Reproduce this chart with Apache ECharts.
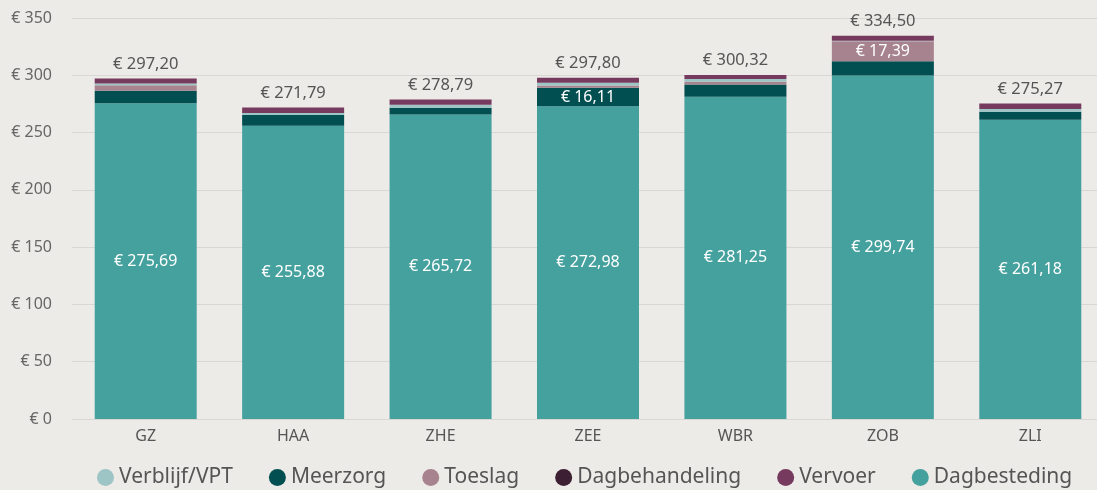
<!DOCTYPE html>
<html>
<head>
<meta charset="utf-8">
<script src="https://cdn.jsdelivr.net/npm/echarts@6/dist/echarts.min.js"></script>
<style>
  html, body { margin: 0; padding: 0; background: #edebe7; }
  #myChart { width: 1097px; height: 490px; }
</style>
</head>
<body>
<div id="myChart"></div>
<script>
// categorieen
const locaties = ['GZ', 'HAA', 'ZHE', 'ZEE', 'WBR', 'ZOB', 'ZLI']
// waarden per onderdeel (geschat uit de afbeelding)
const dagbesteding = [275.69, 255.88, 265.72, 272.98, 281.25, 299.74, 261.18]
const meerzorg = [10.81, 9.5, 5.97, 16.11, 10.6, 12.57, 6.99]
const toeslag = [4.8, 0, 0, 2.01, 2.5, 17.39, 0]
const verblijf = [1.6, 1.7, 2.7, 2.4, 2.47, 0.4, 2.3]
const dagbehandeling = [0, 0, 0, 0, 0, 0, 0]
const vervoer = [4.3, 4.71, 4.4, 4.3, 3.5, 4.4, 4.8]
const totalen = [297.2, 271.79, 278.79, 297.8, 300.32, 334.5, 275.27]
// welke segmenten een label binnen de balk krijgen
const meerzorgLabel = ['ZEE']
const toeslagLabel = ['ZOB']

const fontFam = 'Noto Sans'
const euro = v => '€ ' + v.toFixed(2).replace('.', ',')

function withLabels(values, showFor) {
  return values.map((v, i) => ({
    value: v,
    label: { show: showFor.indexOf(locaties[i]) >= 0 },
  }))
}

let myChart = echarts.init(document.getElementById('myChart'))
myChart.setOption({
  backgroundColor: '#edebe7',
  animation: false,
  textStyle: { fontFamily: fontFam },
  grid: { left: 72, width: 1032, top: 18, bottom: 71, containLabel: false, outerBoundsMode: 'none' },
  legend: {
    bottom: -3,
    left: 92,
    icon: 'circle',
    itemWidth: 17,
    itemHeight: 17,
    itemGap: 36,
    textStyle: { fontSize: 21, color: '#555', fontFamily: fontFam },
    data: ['Verblijf/VPT', 'Meerzorg', 'Toeslag', 'Dagbehandeling', 'Vervoer', 'Dagbesteding'],
  },
  xAxis: {
    type: 'category',
    data: locaties,
    axisLine: { show: false },
    axisTick: { show: false },
    axisLabel: { fontSize: 16, color: '#555', margin: 9 },
  },
  yAxis: {
    type: 'value',
    min: 0,
    max: 350,
    interval: 50,
    axisLabel: { fontSize: 16, color: '#666', margin: 20, formatter: v => '€ ' + v },
    splitLine: { lineStyle: { color: '#d9d7d3' } },
  },
  series: [
    {
      name: 'Dagbesteding', type: 'bar', stack: 'tot', barWidth: 102,
      itemStyle: { color: '#45a19e' },
      label: { show: true, position: 'inside', color: '#fff', fontSize: 16, formatter: p => euro(p.value) },
      data: dagbesteding,
    },
    {
      name: 'Meerzorg', type: 'bar', stack: 'tot',
      itemStyle: { color: '#014f51' },
      label: { position: 'inside', color: '#fff', fontSize: 16, formatter: p => euro(p.value) },
      data: withLabels(meerzorg, meerzorgLabel),
    },
    {
      name: 'Toeslag', type: 'bar', stack: 'tot',
      itemStyle: { color: '#a6838e' },
      label: { position: 'inside', color: '#fff', fontSize: 16, formatter: p => euro(p.value) },
      data: withLabels(toeslag, toeslagLabel),
    },
    {
      name: 'Verblijf/VPT', type: 'bar', stack: 'tot',
      itemStyle: { color: '#9dc5c5' },
      data: verblijf,
    },
    {
      name: 'Dagbehandeling', type: 'bar', stack: 'tot',
      itemStyle: { color: '#3c1f33' },
      data: dagbehandeling,
    },
    {
      name: 'Vervoer', type: 'bar', stack: 'tot',
      itemStyle: { color: '#763a5e' },
      label: {
        show: true, position: 'top', distance: 6, color: '#555', fontSize: 16.5,
        formatter: p => euro(totalen[p.dataIndex]),
      },
      data: vervoer,
    },
  ],
})
</script>
</body>
</html>
